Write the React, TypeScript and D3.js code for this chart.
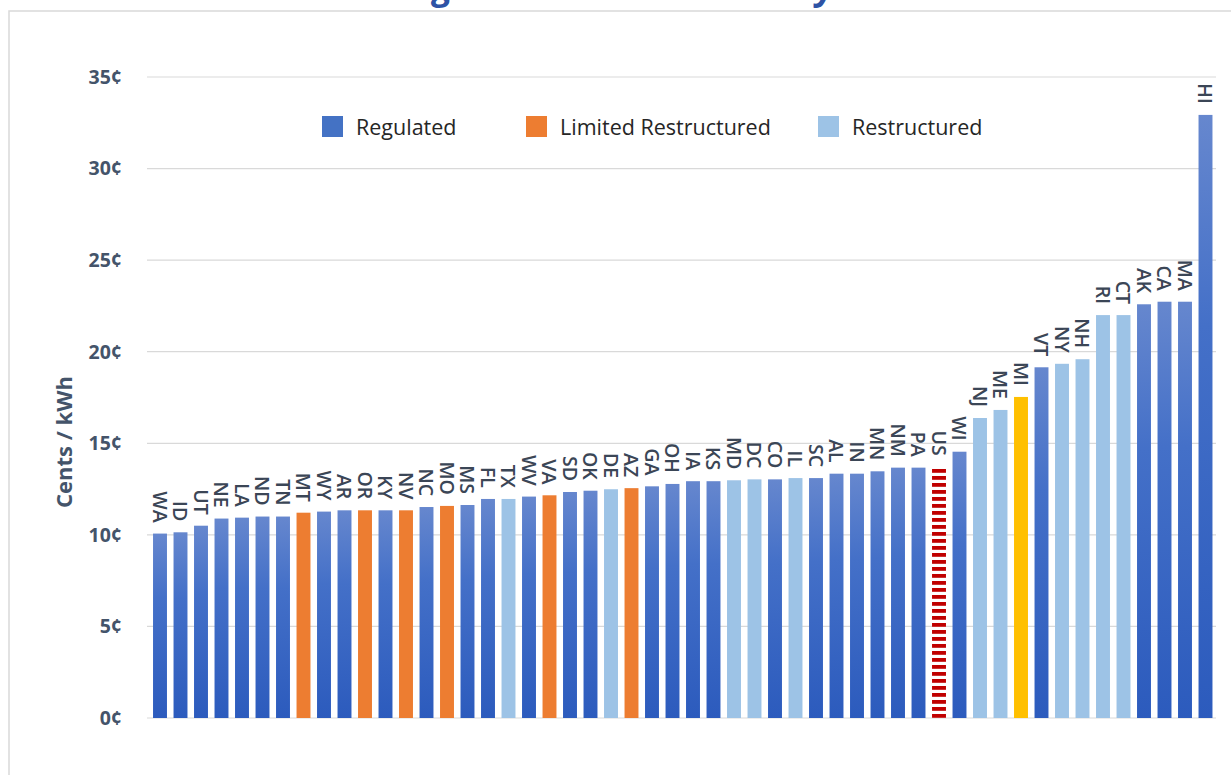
import React, { useLayoutEffect, useRef, useState } from "react";
import * as d3 from "d3";

const states = ["WA","ID","UT","NE","LA","ND","TN","MT","WY","AR","OR","KY","NV","NC","MO","MS","FL","TX","WV","VA","SD","OK","DE","AZ","GA","OH","IA","KS","MD","DC","CO","IL","SC","AL","IN","MN","NM","PA","US","WI","NJ","ME","MI","VT","NY","NH","RI","CT","AK","CA","MA","HI"];
const values = [10.07,10.14,10.5,10.89,10.94,11.0,11.0,11.21,11.27,11.34,11.34,11.34,11.34,11.52,11.58,11.63,11.96,11.96,12.09,12.16,12.34,12.41,12.49,12.55,12.65,12.78,12.93,12.93,12.98,13.03,13.03,13.1,13.1,13.34,13.34,13.47,13.67,13.67,13.72,14.54,16.38,16.82,17.53,19.15,19.34,19.59,22.0,22.0,22.59,22.73,22.73,32.93];
// R = Regulated, L = Limited Restructured, S = Restructured, M = Michigan, U = US average
const types = ["R","R","R","R","R","R","R","L","R","R","L","R","L","R","L","R","R","S","R","L","R","R","S","L","R","R","R","R","S","S","R","S","R","R","R","R","R","R","U","R","S","S","M","R","S","S","S","S","R","R","R","R"];
const yTicks = [0,5,10,15,20,25,30,35];
const legendItems = [
  { key: "R", label: "Regulated" },
  { key: "L", label: "Limited Restructured" },
  { key: "S", label: "Restructured" },
];
const TITLE = "Average Residential Electricity Rates";

const W = 1231, H = 775;
const fillFor: Record<string, string> = {
  R: "url(#regGrad)",
  L: "#ED7D31",
  S: "#9DC3E6",
  M: "#FFC000",
  U: "url(#usStripes)",
};
const legendColor: Record<string, string> = { R: "#4472C4", L: "#ED7D31", S: "#9DC3E6" };

export default function App() {
  const x = d3.scaleBand<string>().domain(states).range([149.75, 1215.75]).paddingInner(0.32).paddingOuter(0.16);
  const y = d3.scaleLinear().domain([0, 35]).range([718, 77]);

  const titleRef = useRef<SVGTextElement>(null);
  const [tt, setTt] = useState<{ x: number; ls: number } | null>(null);
  useLayoutEffect(() => {
    const el = titleRef.current;
    if (!el || tt) return;
    const gi = TITLE.indexOf("g");
    const yi = TITLE.lastIndexOf("y");
    const pg = el.getStartPositionOfChar(gi).x;
    const py = el.getStartPositionOfChar(yi).x;
    const ls = (816 - 433 - (py - pg)) / (yi - gi);
    setTt({ x: 433 - pg - gi * ls, ls });
  }, [tt]);

  const legendX = [322, 526, 818];

  return (
    <svg width={W} height={H} style={{ position: "absolute", left: 0, top: 0, display: "block", background: "#fff" }}>
      <defs>
        <linearGradient id="regGrad" x1="0" y1="0" x2="0" y2="1">
          <stop offset="0" stopColor="#6687CE" />
          <stop offset="0.35" stopColor="#4470C8" />
          <stop offset="1" stopColor="#2C5BBD" />
        </linearGradient>
        <pattern id="usStripes" patternUnits="userSpaceOnUse" width="20" height="7" y={0}>
          <rect x="0" y="0" width="20" height="7" fill="#ffffff" />
          <rect x="0" y="0" width="20" height="3.8" fill="#C00000" />
        </pattern>
      </defs>

      <text
        ref={titleRef}
        x={tt ? tt.x : 0}
        y={-1.5}
        style={{ letterSpacing: tt ? `${tt.ls}px` : "0px" }}
        fontFamily="Open Sans, sans-serif"
        fontWeight={700}
        fontStyle="italic"
        fontSize={36}
        fill="#2E53A5"
      >
        {TITLE}
      </text>

      <rect x={9} y={11} width={W} height={H} fill="#fff" stroke="#D9D9D9" strokeWidth={1.5} />

      {yTicks.map((t) => (
        <g key={t}>
          <line x1={147} x2={1216} y1={y(t)} y2={y(t)} stroke="#D9D9D9" strokeWidth={1.2} />
          <text
            x={122}
            y={y(t)}
            dy="0.35em"
            textAnchor="end"
            fontFamily="Open Sans, sans-serif"
            fontWeight={700}
            fontSize={19.5}
            fill="#44546A"
          >
            {`${t}¢`}
          </text>
        </g>
      ))}

      <text
        transform={`translate(72, 442) rotate(-90)`}
        textAnchor="middle"
        fontFamily="Open Sans, sans-serif"
        fontWeight={700}
        fontSize={22}
        fill="#44546A"
      >
        Cents / kWh
      </text>

      {legendItems.map((it, i) => (
        <g key={it.key}>
          <rect x={legendX[i]} y={116} width={21} height={21} fill={legendColor[it.key]} />
          <text
            x={legendX[i] + 34}
            y={127}
            dy="0.36em"
            fontFamily="Open Sans, sans-serif"
            fontSize={21.5}
            fill="#262626"
          >
            {it.label}
          </text>
        </g>
      ))}

      {states.map((s, i) => {
        const bx = x(s) as number;
        const bw = x.bandwidth();
        const top = y(values[i]);
        return (
          <g key={s}>
            <rect x={bx} y={top} width={bw} height={y(0) - top} fill={fillFor[types[i]]} />
            <text
              transform={`translate(${bx + bw / 2}, ${top - 11}) rotate(90)`}
              textAnchor="end"
              dy="0.36em"
              fontFamily="Open Sans, sans-serif"
              fontWeight={600}
              fontSize={19.5}
              fill="#3B4656"
            >
              {s}
            </text>
          </g>
        );
      })}
    </svg>
  );
}
